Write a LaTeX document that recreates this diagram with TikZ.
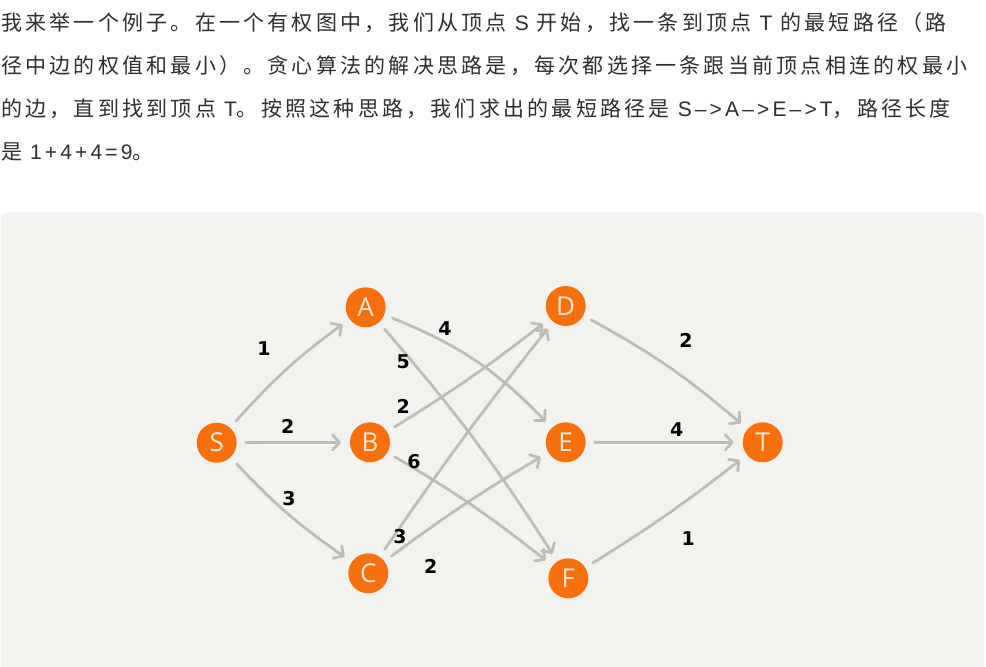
\documentclass[tikz,border=0pt]{standalone}
\usepackage{fontspec}
\usetikzlibrary{arrows.meta}
\newfontfamily\cjk[LetterSpace=15.4]{Noto Sans CJK SC}
\newfontfamily\latf[LetterSpace=15]{Liberation Sans}
\newfontfamily\lblfont{DejaVu Sans}
\newfontfamily\nodefont{Open Sans}
\definecolor{paneltone}{HTML}{F3F2EE}
\definecolor{nodeorange}{HTML}{F8700E}
\definecolor{edgegray}{HTML}{BDBCB6}
\definecolor{textgray}{HTML}{2E2E2E}
\definecolor{nodetext}{HTML}{FFE9D2}
\newcommand{\lt}[1]{{\latf #1}}
\tikzset{
  vtx/.style={circle, fill=nodeorange, minimum size=40pt, inner sep=0pt, outer sep=9pt,
    text=nodetext, font=\nodefont\fontsize{26}{26}\selectfont},
  wedge/.style={draw=edgegray, line width=2.8pt, line cap=round,
    -{Straight Barb[length=7pt,width=15pt,line width=2.8pt,round]}},
  wlabel/.style={font=\lblfont\bfseries\fontsize{19}{19}\selectfont, text=black, inner sep=0pt},
  txtline/.style={anchor=west, inner sep=0pt, text=textgray, font=\cjk\fontsize{21}{21}\selectfont}
}
\begin{document}
\begin{tikzpicture}[x=1pt,y=-1pt]
\useasboundingbox (0,0) rectangle (986,667);
\fill[white] (0,0) rectangle (986,667);
% text
\node[txtline] (l1) at (1,23) {我来举一个例子。在一个有权图中，我们从顶点 \lt{S} 开始，找一条到顶点 \lt{T} 的最短路径（路};
\node[txtline] (l2) at (1,66) {径中边的权值和最小）。贪心算法的解决思路是，每次都选择一条跟当前顶点相连的权最小};
\node[txtline] (l3) at (1,109) {的边，直到找到顶点 \lt{T}。按照这种思路，我们求出的最短路径是 \lt{S–>A–>E–>T}，路径长度};
\node[txtline] (l4) at (1,152) {是 \lt{1+4+4=9}。};
% panel
\fill[paneltone, rounded corners=7pt] (1,212) rectangle (984,680);
% vertices
\node[vtx] (S) at (216.7,442.7) {S};
\node[vtx] (A) at (365.7,307.3) {A};
\node[vtx] (B) at (370,442.3) {B};
\node[vtx] (C) at (368.3,573.3) {C};
\node[vtx] (D) at (565.7,306) {D};
\node[vtx] (E) at (565.7,442.3) {E};
\node[vtx] (F) at (568.3,578.3) {F};
\node[vtx] (T) at (762.7,442.3) {T};
% edges
\draw[wedge] (S) to[bend left=6] (A);
\draw[wedge] (S) -- (B);
\draw[wedge] (S) to[bend right=6] (C);
\draw[wedge] (A) to[bend left=12] (E);
\draw[wedge] (A) to[bend left=4] (F);
\draw[wedge] (B) to[bend right=3] (D);
\draw[wedge] (B) to[bend left=4] (F);
\draw[wedge] (C) to[bend left=2] (D);
\draw[wedge] (C) to[bend left=3] (E);
\draw[wedge] (D) to[bend left=6] (T);
\draw[wedge] (E) -- (T);
\draw[wedge] (F) to[bend right=3] (T);
% weights
\node[wlabel] (wSA) at (264,348.3) {1};
\node[wlabel] (wSB) at (287.7,426) {2};
\node[wlabel] (wSC) at (289,498.3) {3};
\node[wlabel] (wAE) at (445,328.3) {4};
\node[wlabel] (wAF) at (403.3,361.7) {5};
\node[wlabel] (wBD) at (403.3,406.7) {2};
\node[wlabel] (wBF) at (414,461.7) {6};
\node[wlabel] (wCD) at (400,536.7) {3};
\node[wlabel] (wCE) at (430.7,566) {2};
\node[wlabel] (wDT) at (686,340) {2};
\node[wlabel] (wET) at (676.7,429.3) {4};
\node[wlabel] (wFT) at (688.3,538.3) {1};
\end{tikzpicture}
\end{document}
